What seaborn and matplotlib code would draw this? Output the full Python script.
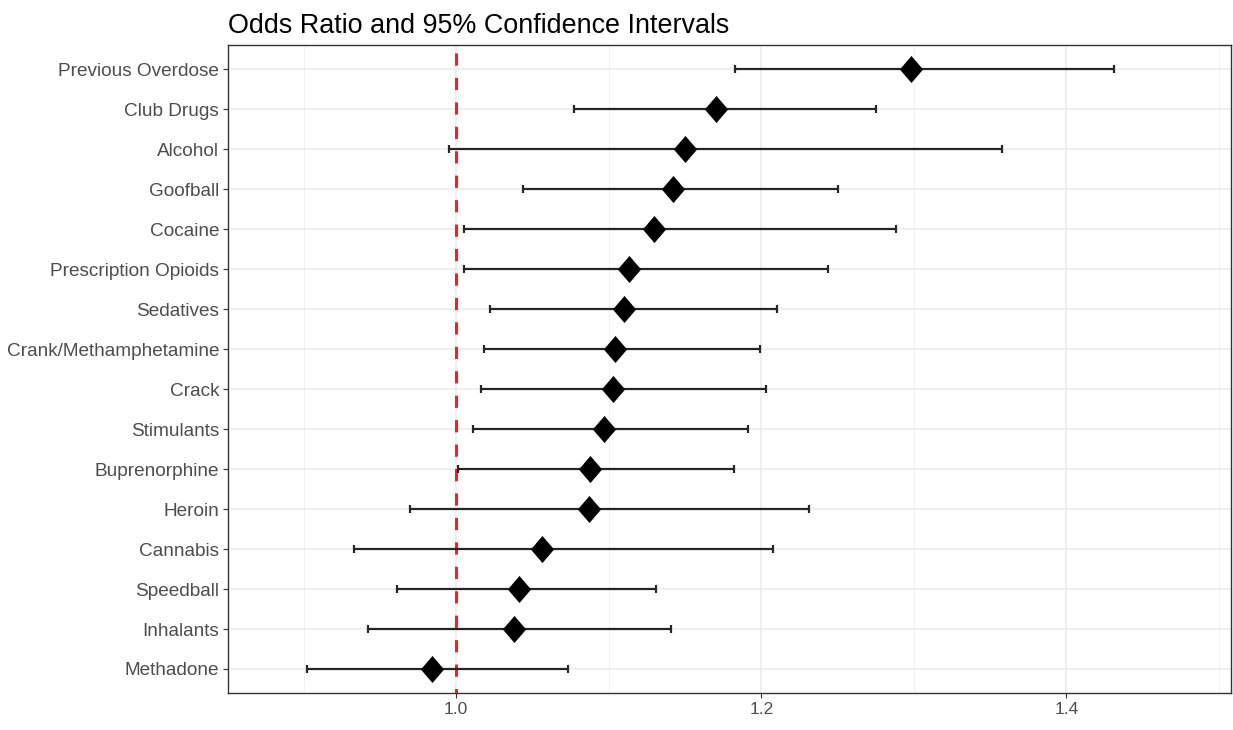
import numpy as np
import pandas as pd
import seaborn as sns
import matplotlib.pyplot as plt
from matplotlib.ticker import MultipleLocator

categories = ['Previous Overdose', 'Club Drugs', 'Alcohol', 'Goofball', 'Cocaine',
              'Prescription Opioids', 'Sedatives', 'Crank/Methamphetamine', 'Crack',
              'Stimulants', 'Buprenorphine', 'Heroin', 'Cannabis', 'Speedball',
              'Inhalants', 'Methadone']
odds_ratio = [1.298, 1.170, 1.150, 1.142, 1.130, 1.113, 1.110, 1.104, 1.103,
              1.097, 1.088, 1.087, 1.056, 1.041, 1.038, 0.984]
ci_low = [1.183, 1.077, 0.995, 1.044, 1.005, 1.005, 1.022, 1.018, 1.016,
          1.011, 1.001, 0.970, 0.933, 0.961, 0.942, 0.902]
ci_high = [1.431, 1.275, 1.358, 1.250, 1.288, 1.244, 1.210, 1.199, 1.203,
           1.191, 1.182, 1.231, 1.208, 1.131, 1.141, 1.073]

df = pd.DataFrame({'label': categories, 'or': odds_ratio, 'lo': ci_low, 'hi': ci_high})

sns.set_theme(style='white')
plt.rcParams['font.family'] = ['Liberation Sans', 'DejaVu Sans']

fig = plt.figure(figsize=(12.33, 7.3), dpi=100)
ax = fig.add_axes([0.185, 0.0507, 0.8135, 0.8875])

# slightly tall diamond like ggplot shape 18
diamond = [(0, 1), (0.86, 0), (0, -1), (-0.86, 0), (0, 1)]

ypos = np.arange(len(df))
ax.errorbar(x=df['or'], y=ypos,
            xerr=[df['or'] - df['lo'], df['hi'] - df['or']],
            fmt='none', ecolor='#262626', elinewidth=1.6, capsize=3.2,
            capthick=1.6, zorder=3)
sns.scatterplot(data=df, x='or', y='label', marker=diamond, s=380, color='black',
                edgecolor='black', linewidth=0, ax=ax, zorder=4)
# reference line drawn top to bottom so the dash pattern starts like ggplot's
ax.plot([1.0, 1.0], [1, 0], transform=ax.get_xaxis_transform(), color='#EE2222',
        linestyle=(5.4, (4, 4)), linewidth=2.2, zorder=2)

ax.set_xlim(0.8505, 1.508)
ax.set_ylim(len(df) - 0.4, -0.6)
ax.xaxis.set_minor_locator(MultipleLocator(0.1))
ax.set_xticks([1.0, 1.2, 1.4])
ax.set_xticklabels(['1.0', '1.2', '1.4'])

ax.grid(True, which='major', color='#EBEBEB', linewidth=1.1, zorder=0)
ax.grid(True, which='minor', axis='x', color='#F2F2F2', linewidth=0.8, zorder=0)
ax.set_axisbelow(True)

for sp in ax.spines.values():
    sp.set_color('#333333')
    sp.set_linewidth(1.0)

ax.tick_params(axis='both', which='major', length=3.5, width=0.8, color='#333333',
               labelcolor='#4D4D4D', labelsize=13.7, pad=3, bottom=True, left=True)
ax.tick_params(axis='x', which='major', labelsize=12.5)
ax.tick_params(axis='x', which='minor', length=0)
ax.set_xlabel('')
ax.set_ylabel('')

ax.set_title('Odds Ratio and 95% Confidence Intervals', loc='left', fontsize=19.4,
             color='black', pad=9)

fig.savefig('out.png', dpi=100)
